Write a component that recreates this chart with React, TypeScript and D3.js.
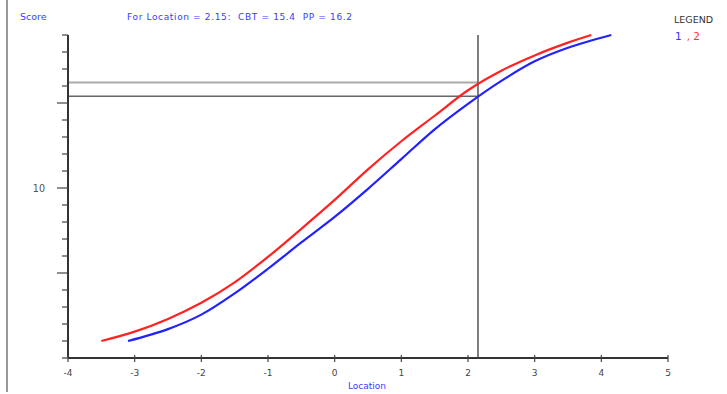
import React from 'react';
import * as d3 from 'd3';

// curve 1 (CBT, blue) and curve 2 (PP, red)
const cbtX = [-3.1, -2.5, -2.0, -1.5, -1.0, -0.5, 0, 0.5, 1.0, 1.5, 2.0, 2.5, 3.0, 3.5, 4.15];
const cbtY = [1.0, 1.7, 2.55, 3.8, 5.25, 6.8, 8.3, 9.95, 11.7, 13.45, 14.95, 16.3, 17.45, 18.25, 19.0];
const ppX = [-3.5, -3.0, -2.5, -2.0, -1.5, -1.0, -0.5, 0, 0.5, 1.0, 1.5, 2.0, 2.5, 3.0, 3.5, 3.85];
const ppY = [1.0, 1.55, 2.3, 3.25, 4.45, 5.95, 7.6, 9.3, 11.1, 12.75, 14.25, 15.75, 16.9, 17.8, 18.55, 19.0];

const location = 2.15;
const cbtAt = 15.4;
const ppAt = 16.2;

const xTicks = [-4, -3, -2, -1, 0, 1, 2, 3, 4, 5];
const yTicks = d3.range(0, 20);
const yMajor = [5, 10, 15];
const yLabels = [10];

const W = 727, H = 394;

export default function App() {
  const x = d3.scaleLinear().domain([-4, 5]).range([68, 668]);
  const y = d3.scaleLinear().domain([0, 19]).range([358, 35]);

  const line = d3.line<[number, number]>()
    .x(d => x(d[0]))
    .y(d => y(d[1]))
    .curve(d3.curveCatmullRom);

  const cbt = cbtX.map((v, i) => [v, cbtY[i]] as [number, number]);
  const pp = ppX.map((v, i) => [v, ppY[i]] as [number, number]);

  const font = 'DejaVu Sans, sans-serif';
  const blue = '#3a3aff';

  return (
    <svg width={W} height={H} style={{ position: 'absolute', left: 0, top: 0, background: '#fff' }}>
      <rect width={W} height={H} fill="#fff" />
      {/* left border */}
      <line x1={7} x2={7} y1={0} y2={392} stroke="#777" strokeWidth={1.5} />

      <text x={20} y={20} fontSize={9.5} fill={blue} fontFamily={font}>Score</text>
      <text x={127} y={20} fontSize={9} fill={blue} fontFamily={font} textLength={225}
        style={{ whiteSpace: 'pre' }}>
        {`For Location = ${location}:  CBT = ${cbtAt}  PP = ${ppAt}`}
      </text>
      <text x={674} y={23} fontSize={9.5} fill="#333" fontFamily={font}>LEGEND</text>
      <text x={675} y={40} fontSize={10.5} fontFamily={font}>
        <tspan fill="#3333ff">1</tspan>
        <tspan fill="#ff3333" dx={5}>, 2</tspan>
      </text>

      {/* reference lines */}
      <line x1={x(-4)} x2={x(location)} y1={y(ppAt)} y2={y(ppAt)} stroke="#aaa" strokeWidth={2} />
      <line x1={x(-4)} x2={x(location)} y1={y(cbtAt)} y2={y(cbtAt)} stroke="#666" strokeWidth={1.5} />
      <line x1={x(location)} x2={x(location)} y1={y(19)} y2={y(0)} stroke="#555" strokeWidth={1.5} />

      {/* y axis */}
      <line x1={x(-4)} x2={x(-4)} y1={y(19)} y2={y(0)} stroke="#333" strokeWidth={2} />
      {yTicks.map(t => (
        <line key={t} x1={x(-4) - (yMajor.includes(t) ? 11 : 6)} x2={x(-4)} y1={y(t)} y2={y(t)}
          stroke="#444" strokeWidth={1.2} />
      ))}
      {yLabels.map(t => (
        <text key={t} x={45} y={y(t) + 3.5} fontSize={9.6} fill="#555" textAnchor="end" fontFamily={font}>{t}</text>
      ))}

      {/* x axis */}
      <line x1={x(-4)} x2={x(5)} y1={y(0)} y2={y(0)} stroke="#333" strokeWidth={2} />
      {xTicks.map(t => (
        <g key={t}>
          <line x1={x(t)} x2={x(t)} y1={y(0) - 3} y2={y(0) + 4} stroke="#444" strokeWidth={1.2} />
          <text x={x(t)} y={376} fontSize={9} fill="#444" textAnchor="middle" fontFamily={font}>{t}</text>
        </g>
      ))}
      <text x={367} y={389} fontSize={9} fill={blue} textAnchor="middle" fontFamily={font}>Location</text>

      <path d={line(cbt) || ''} fill="none" stroke="#2222ff" strokeWidth={2.2} />
      <path d={line(pp) || ''} fill="none" stroke="#ff2222" strokeWidth={2.2} />
    </svg>
  );
}
